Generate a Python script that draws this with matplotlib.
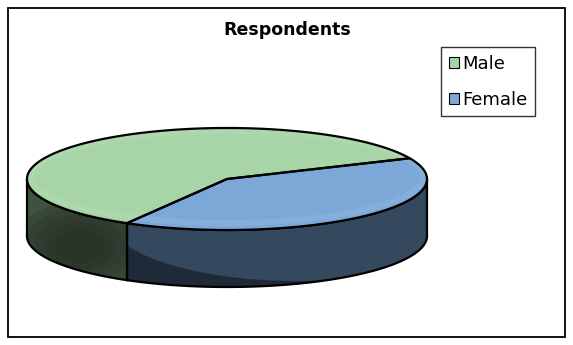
import numpy as np
import matplotlib
matplotlib.use('Agg')
import matplotlib.pyplot as plt
from matplotlib.patches import Polygon, Rectangle, Patch, Ellipse

# data
labels = ['Male', 'Female']
values = [60, 40]
top_colors = ['#a7d5a7', '#7ca8d8']
side_colors = ['#3f513f', '#1e2a38']
shine_colors = ['#222c22', '#34485e']

# layout (pixels, y down)
W, H = 573, 345
cx, cy = 227, 179        # centre of top ellipse
a, b = 200, 51           # semi axes
depth = 57               # thickness
start = 240.0            # first slice edge (deg, counter-clockwise from +x)

fig = plt.figure(figsize=(W/100, H/100), dpi=100)
ax = fig.add_axes([0, 0, 1, 1])
ax.set_xlim(0, W)
ax.set_ylim(H, 0)
ax.axis('off')

ax.add_patch(Rectangle((8, 8), 557, 329, fill=False, ec='black', lw=1.3))

def pt(t, dz=0):
    t = np.radians(t)
    return cx + a*np.cos(t), cy - b*np.sin(t) + dz

# slice angles, clockwise
fr = np.array(values, float)/np.sum(values)
edges = start - np.concatenate([[0], np.cumsum(fr)])*360

# side walls (front half only: 180..360 deg)
for i in range(len(values)):
    t1, t2 = edges[i+1], edges[i]
    lo = t1 % 360
    hi = lo + (t2 - t1)
    for off in (-360, 0, 360):
        s0, s1 = max(lo + off, 180), min(hi + off, 360)
        if s1 <= s0:
            continue
        tt = np.linspace(s0, s1, 120)
        xs, ys = pt(tt)
        xb, yb = pt(tt[::-1], depth)
        poly = np.column_stack([np.concatenate([xs, xb]), np.concatenate([ys, yb])])
        p = Polygon(poly, closed=True, fc=side_colors[i], ec='none', zorder=2)
        ax.add_patch(p)
        # soft sheen clipped to the wall
        if i == 1:
            sh = Ellipse((cx + 70, cy + 38), 2*a - 20, 2*b + 26, fc=shine_colors[i], ec='none', zorder=3)
            ax.add_patch(sh)
            sh.set_clip_path(p)
        else:
            # darker core, lighter towards the edges
            for k in range(5):
                sh = Ellipse((80, 246), 130 - 20*k, 90 - 14*k, fc=shine_colors[i], ec='none',
                             zorder=3, alpha=0.22)
                ax.add_patch(sh)
                sh.set_clip_path(p)
        ax.add_patch(Polygon(poly, closed=True, fc='none', ec='black', lw=1.6, zorder=4))

# top faces
for i in range(len(values)):
    tt = np.linspace(edges[i+1], edges[i], 200)
    xs, ys = pt(tt)
    poly = np.column_stack([np.concatenate([[cx], xs]), np.concatenate([[cy], ys])])
    p = Polygon(poly, closed=True, fc=top_colors[i], ec='none', zorder=5)
    ax.add_patch(p)
    # bevel rim along the edge
    rim = Ellipse((cx, cy - 2), 2*a - 8, 2*b - 10, fc='none', ec='white', lw=4, alpha=0.08, zorder=5.5)
    ax.add_patch(rim)
    rim.set_clip_path(p)
    ax.add_patch(Polygon(poly, closed=True, fc='none', ec='black', lw=1.6, zorder=6, joinstyle='round'))

ax.text(287, 30, 'Respondents', ha='center', va='center', fontsize=12.5, fontweight='bold', family='DejaVu Sans')

handles = [Patch(fc=c, ec='black', lw=0.8) for c in top_colors]
leg = ax.legend(handles, labels, loc='upper left', bbox_to_anchor=(441/W, 1 - 47/H),
                fontsize=13, frameon=True, fancybox=False, handlelength=0.55, handleheight=0.55,
                handletextpad=0.2, labelspacing=1.0, borderpad=0.42, borderaxespad=0)
leg.get_frame().set_edgecolor('black')
leg.get_frame().set_linewidth(1.0)

fig.savefig('out.png', dpi=100)
